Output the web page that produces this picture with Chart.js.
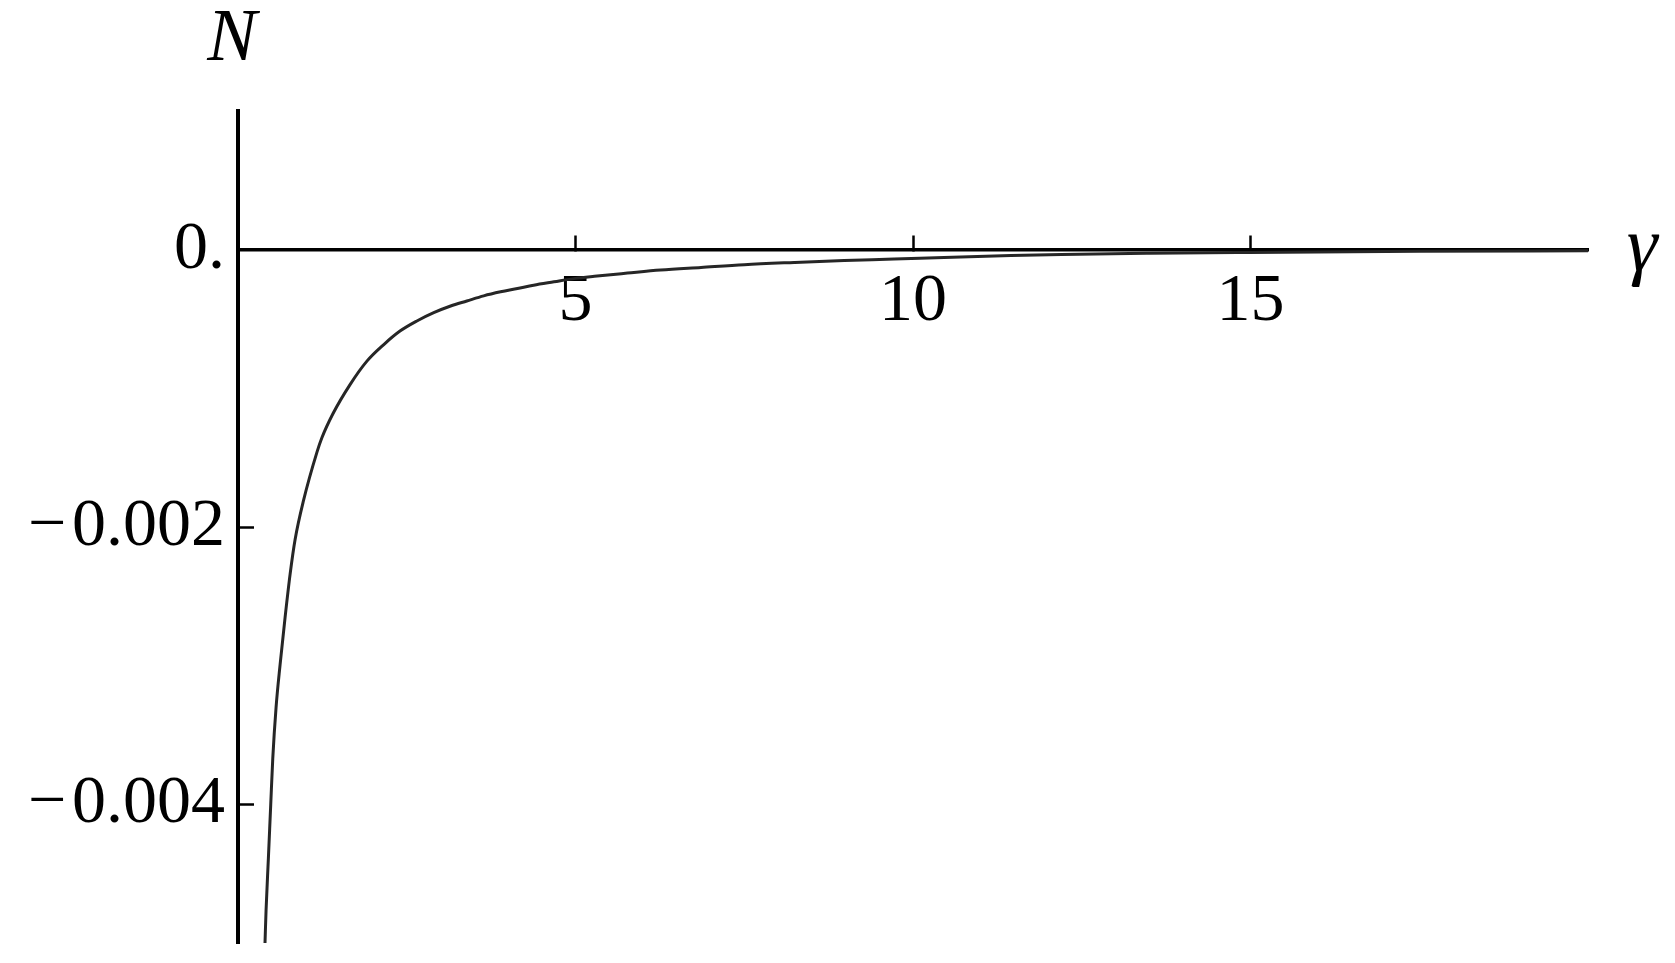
<!DOCTYPE html>
<html>
<head>
<meta charset="utf-8">
<title>N vs gamma</title>
<script src="https://cdn.jsdelivr.net/npm/chart.js@4.4.1/dist/chart.umd.min.js"></script>
<style>
  html, body { margin: 0; padding: 0; background: #fff; }
  #wrap { width: 1675px; height: 963px; position: relative; }
</style>
</head>
<body>
<div id="wrap"><canvas id="plot"></canvas></div>
<script>
// values
const gammaValues = [0.40, 0.416, 0.45, 0.485, 0.515, 0.564, 0.624, 0.698, 0.772, 0.846, 0.97, 1.17, 1.24, 1.41, 1.66, 1.91, 2.16, 2.40, 2.65, 2.90, 3.15, 3.39, 3.64, 3.89, 4.14, 4.38, 4.68, 5.0, 5.28, 5.77, 6.26, 6.86, 7.5, 8.24, 8.98, 9.72, 10.46, 11.45, 12.2, 13.5, 15, 17.5, 20];
const nValues = [-0.005, -0.00476, -0.00439, -0.0040, -0.00367, -0.0033, -0.00299, -0.00265, -0.00234, -0.00209, -0.00181, -0.00146, -0.00136, -0.00118, -0.000973, -0.000804, -0.000684, -0.000587, -0.000514, -0.000454, -0.000406, -0.00037, -0.000333, -0.000304, -0.00028, -0.000256, -0.000232, -0.000207, -0.000192, -0.000169, -0.000147, -0.000128, -0.000108, -0.000092, -0.000078, -0.000068, -0.000056, -0.000042, -0.000034, -0.000026, -0.00002, -0.000012, -0.000008];

const xTicks = [5, 10, 15];
const yTicks = [0, -0.002, -0.004];
const xRange = [0, 20];
const yRange = [-0.005, 0.001];

const points = gammaValues.map((g, i) => ({ x: g, y: nValues[i] }));

function fmtY(v) {
  if (v === 0) return '0.';
  return (v < 0 ? '\u2212\u200A' : '') + Math.abs(v).toFixed(3);
}

// axis names, placed next to the axes (Mathematica style)
const axisNames = {
  id: 'axisNames',
  afterDraw(chart) {
    const ctx = chart.ctx;
    const area = chart.chartArea;
    const zeroY = chart.scales.y.getPixelForValue(0);
    ctx.save();
    ctx.fillStyle = '#000';
    ctx.font = 'italic 74px "Liberation Serif", "DejaVu Serif", serif';
    ctx.textAlign = 'center';
    ctx.textBaseline = 'alphabetic';
    ctx.fillText('N', area.left - 6, 60);
    ctx.textBaseline = 'middle';
    ctx.font = 'italic 78px "Liberation Serif", "DejaVu Serif", serif';
    ctx.fillText('\u03B3', area.right + 54, zeroY);
    ctx.restore();
  }
};

const ctx = document.getElementById('plot').getContext('2d');
new Chart(ctx, {
  type: 'scatter',
  data: {
    datasets: [{
      label: 'N',
      data: points,
      showLine: true,
      borderColor: '#262626',
      borderWidth: 3,
      pointRadius: 0,
      cubicInterpolationMode: 'monotone',
      fill: false
    }]
  },
  options: {
    responsive: true,
    maintainAspectRatio: false,
    animation: false,
    layout: { padding: { left: 0, right: 87, top: 111, bottom: 20 } },
    plugins: {
      legend: { display: false },
      tooltip: { enabled: false }
    },
    scales: {
      x: {
        type: 'linear',
        min: xRange[0],
        max: xRange[1],
        position: { y: 0 },
        afterFit: s => { s.height = 0; s.paddingLeft = 0; s.paddingRight = 0; s.paddingTop = 0; s.paddingBottom = 0; },
        afterBuildTicks: s => { s.ticks = xTicks.map(v => ({ value: v })); },
        border: { display: true, color: '#000', width: 3.5 },
        grid: { drawOnChartArea: false, drawTicks: true, tickLength: -16, tickWidth: 2.5, tickColor: '#000' },
        ticks: {
          color: '#000',
          padding: 28,
          maxRotation: 0,
          font: { family: '"Liberation Serif", "DejaVu Serif", serif', size: 68 },
          callback: v => String(v)
        }
      },
      y: {
        type: 'linear',
        min: yRange[0],
        max: yRange[1],
        position: 'left',
        afterFit: s => { s.width = 238; s.paddingTop = 0; s.paddingBottom = 0; },
        afterBuildTicks: s => { s.ticks = yTicks.map(v => ({ value: v })); },
        border: { display: true, color: '#000', width: 4 },
        grid: { drawOnChartArea: false, drawTicks: true, tickLength: -16, tickWidth: 2.5, tickColor: '#000' },
        ticks: {
          color: '#000',
          padding: 29,
          font: { family: '"Liberation Serif", "DejaVu Serif", serif', size: 68 },
          callback: v => fmtY(v)
        }
      }
    }
  },
  plugins: [axisNames]
});
</script>
</body>
</html>
